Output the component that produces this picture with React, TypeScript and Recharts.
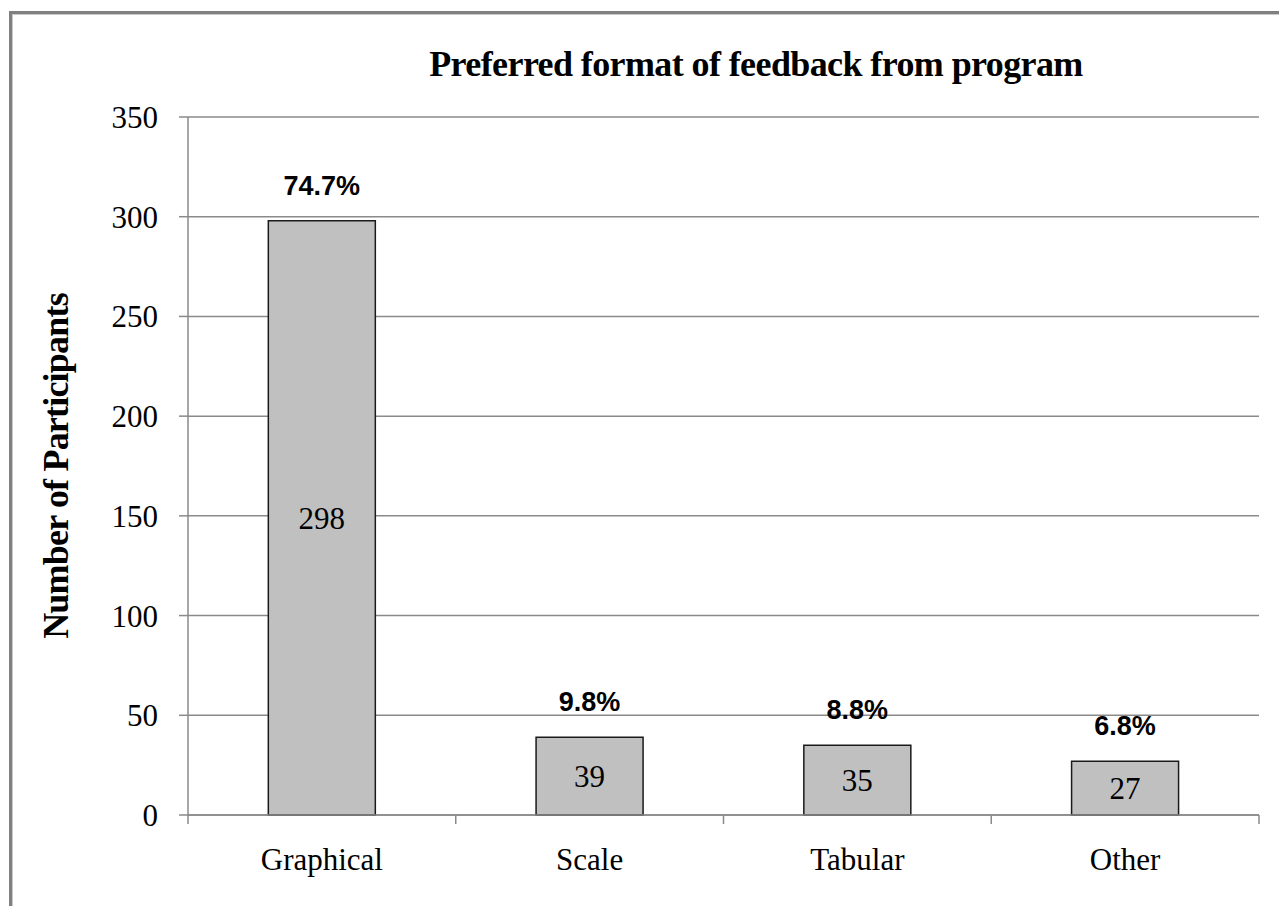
import { BarChart, Bar, XAxis, YAxis, CartesianGrid, LabelList, Label } from 'recharts'

const categories = ['Graphical', 'Scale', 'Tabular', 'Other']
const participants = [298, 39, 35, 27]
const shares = ['74.7%', '9.8%', '8.8%', '6.8%']
const yTicks = [0, 50, 100, 150, 200, 250, 300, 350]

const data = categories.map((name, i) => ({ name, value: participants[i], share: shares[i] }))

const SERIF = '"Liberation Serif", "Times New Roman", serif'
const SANS = '"Liberation Sans", Arial, sans-serif'
const GRID = '#8a8a8a'

function CategoryTick(props: any) {
  const { x, y, payload, index } = props
  const half = payload.offset ?? 0
  return (
    <g>
      <line x1={x - half} y1={y} x2={x - half} y2={y + 9} stroke={GRID} strokeWidth={1.5} />
      {index === categories.length - 1 && (
        <line x1={x + half} y1={y} x2={x + half} y2={y + 9} stroke={GRID} strokeWidth={1.5} />
      )}
      <text x={x} y={y + 55} textAnchor="middle" fontFamily={SERIF} fontSize={31} fill="#000">
        {payload.value}
      </text>
    </g>
  )
}

function ShareLabel(props: any) {
  const { x, y, width, value } = props
  return (
    <text x={x + width / 2} y={y - 26} textAnchor="middle" fontFamily={SANS} fontWeight="bold" fontSize={27} fill="#000">
      {value}
    </text>
  )
}

export default function App() {
  return (
    <div style={{ position: 'absolute', left: 0, top: 0, width: 1279, height: 906, overflow: 'hidden', background: '#fff' }}>
      <div
        style={{
          position: 'absolute', left: 9, top: 11, width: 1400, height: 1000,
          borderLeft: '3px solid #808080', borderTop: '3px solid #808080',
          boxShadow: 'inset 1px 1px 0 #c8c8c8',
        }}
      />
      <div
        style={{
          position: 'absolute', left: 188, width: 1136, top: 43, textAlign: 'center',
          fontFamily: SERIF, fontWeight: 'bold', fontSize: 36, letterSpacing: -0.6, color: '#000',
        }}
      >
        Preferred format of feedback from program
      </div>
      <div style={{ position: 'absolute', left: 0, top: 0 }}>
        <BarChart width={1279} height={906} data={data} margin={{ top: 117, right: 20, bottom: 0, left: 0 }} barCategoryGap="30%">
          <CartesianGrid vertical={false} stroke={GRID} strokeWidth={1.5} />
          <XAxis
            dataKey="name"
            height={91}
            axisLine={{ stroke: GRID, strokeWidth: 1.5 }}
            tickLine={false}
            tickSize={0}
            tickMargin={0}
            tick={<CategoryTick />}
            interval={0}
          />
          <YAxis
            width={188}
            domain={[0, 350]}
            ticks={yTicks}
            interval={0}
            axisLine={{ stroke: GRID, strokeWidth: 1.5 }}
            tickLine={{ stroke: GRID, strokeWidth: 1.5 }}
            tickSize={9}
            tickMargin={21}
            tick={{ fontFamily: SERIF, fontSize: 31, fill: '#000' }}
          >
            <Label
              content={() => (
                <text
                  x={68}
                  y={466}
                  transform="rotate(-90 68 466)"
                  textAnchor="middle"
                  fontFamily={SERIF}
                  fontWeight="bold"
                  fontSize={36}
                  letterSpacing={-0.8}
                  fill="#000"
                >
                  Number of Participants
                </text>
              )}
            />
          </YAxis>
          <Bar dataKey="value" fill="#c0c0c0" stroke="#1a1a1a" strokeWidth={1.5} isAnimationActive={false}>
            <LabelList dataKey="value" position="center" fontFamily={SERIF} fontSize={31} fill="#000" />
            <LabelList dataKey="share" content={<ShareLabel />} />
          </Bar>
        </BarChart>
      </div>
    </div>
  )
}
